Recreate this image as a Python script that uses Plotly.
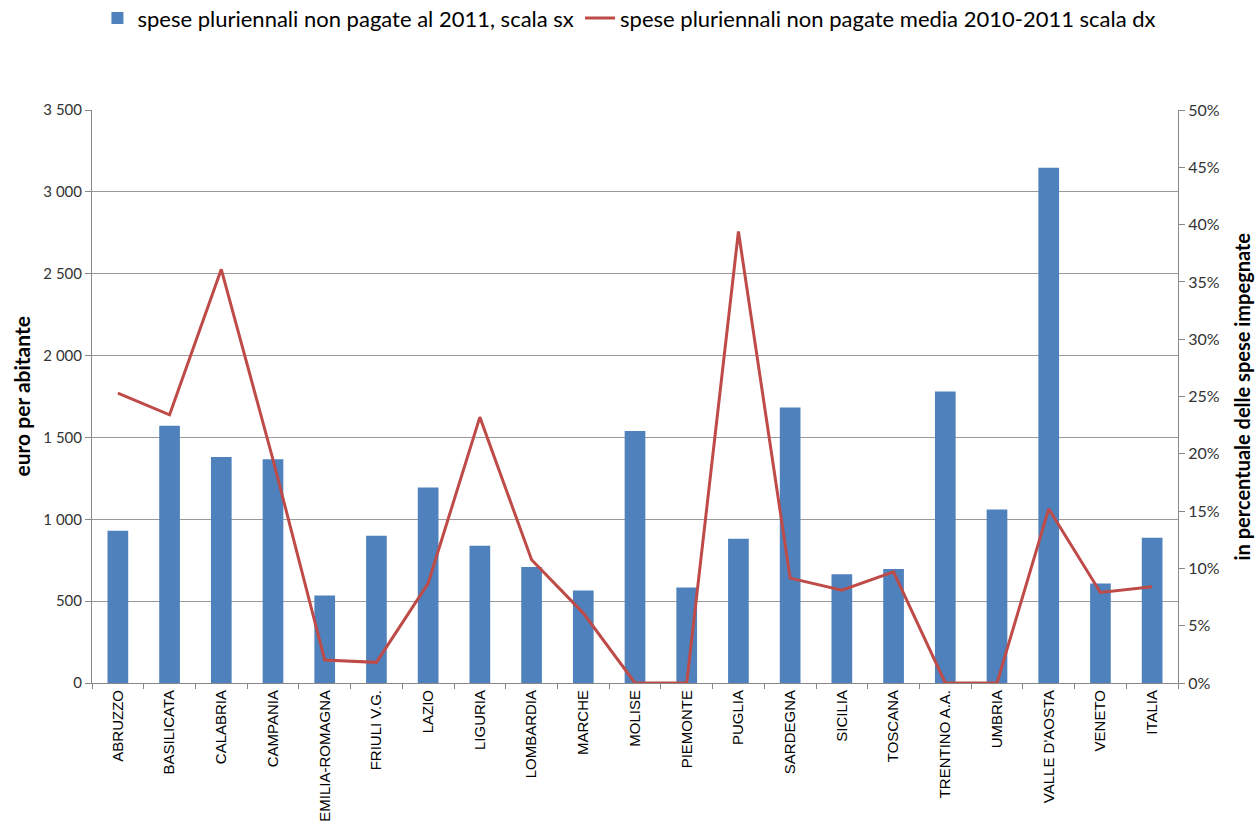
import plotly.graph_objects as go

regions = ["ABRUZZO", "BASILICATA", "CALABRIA", "CAMPANIA", "EMILIA-ROMAGNA", "FRIULI V.G.",
           "LAZIO", "LIGURIA", "LOMBARDIA", "MARCHE", "MOLISE", "PIEMONTE", "PUGLIA",
           "SARDEGNA", "SICILIA", "TOSCANA", "TRENTINO A.A.", "UMBRIA", "VALLE D'AOSTA",
           "VENETO", "ITALIA"]

spese_2011 = [930, 1571, 1380, 1367, 535, 899, 1194, 838, 708, 565, 1540, 584, 881,
              1683, 665, 696, 1780, 1060, 3148, 608, 887]

media_pct = [25.3, 23.4, 36.1, 19.5, 2.0, 1.8, 8.7, 23.2, 10.75, 6.1, 0.0, 0.0, 39.4,
             9.15, 8.1, 9.7, 0.0, 0.0, 15.2, 7.9, 8.4]
media_frac = [v / 100 for v in media_pct]

left_ticks = [0, 500, 1000, 1500, 2000, 2500, 3000, 3500]
left_labels = ["0", "500", "1 000", "1 500", "2 000", "2 500", "3 000", "3 500"]
right_ticks = [0, 0.05, 0.10, 0.15, 0.20, 0.25, 0.30, 0.35, 0.40, 0.45, 0.50]
right_labels = ["0%", "5%", "10%", "15%", "20%", "25%", "30%", "35%", "40%", "45%", "50%"]

CAL = "Lato, Carlito, 'Open Sans', sans-serif"

fig = go.Figure()
fig.add_trace(go.Bar(
    x=regions, y=spese_2011, name="spese pluriennali non pagate al 2011, scala sx",
    marker=dict(color="#4F81BD", line=dict(width=0)), yaxis="y", legend="legend"))
fig.add_trace(go.Scatter(
    x=regions, y=media_frac, name="spese pluriennali non pagate media 2010-2011 scala dx",
    mode="lines", line=dict(color="#BE4B48", width=3), yaxis="y2", legend="legend2"))

leg_common = dict(orientation="h", xanchor="left", yanchor="middle", y=1.16,
                  font=dict(family=CAL, size=22, color="#000"),
                  itemwidth=30, bgcolor="rgba(0,0,0,0)")

fig.update_layout(
    width=1255, height=826,
    margin=dict(l=92, r=77, t=110, b=143, autoexpand=False),
    paper_bgcolor="white", plot_bgcolor="white",
    bargap=0.6,
    showlegend=True,
    legend=dict(x=0.005, **leg_common),
    legend2=dict(x=0.4494, **leg_common),
    xaxis=dict(type="category", tickangle=-90, showgrid=False,
               showline=True, linecolor="#888", linewidth=1,
               ticks="outside", tickson="boundaries", ticklen=5, tickcolor="#888",
               tickfont=dict(family="Liberation Sans, Arial", size=15, color="#000")),
    yaxis=dict(range=[0, 3500], tickvals=left_ticks, ticktext=left_labels,
               showgrid=True, gridcolor="#999", gridwidth=1,
               showline=True, linecolor="#888", linewidth=1,
               ticks="outside", ticklen=6, tickcolor="#888",
               tickfont=dict(family=CAL, size=15, color="#333"), zeroline=False),
    yaxis2=dict(range=[0, 0.5], tickvals=right_ticks, ticktext=right_labels,
                overlaying="y", side="right", showgrid=False,
                showline=True, linecolor="#888", linewidth=1,
                ticks="outside", ticklen=6, tickcolor="#888",
                tickfont=dict(family=CAL, size=16, color="#333"), zeroline=False),
    annotations=[
        dict(text="<b>euro per abitante</b>", textangle=-90, xref="paper", yref="paper",
             x=(21 - 92) / 1086, y=0.5, xanchor="center", yanchor="middle", showarrow=False,
             font=dict(family=CAL, size=21, color="#000")),
        dict(text="<b>in percentuale delle spese impegnate</b>", textangle=-90,
             xref="paper", yref="paper",
             x=(1241 - 92) / 1086, y=0.5, xanchor="center", yanchor="middle", showarrow=False,
             font=dict(family=CAL, size=20, color="#000")),
    ],
)

fig.write_html("out.html")
